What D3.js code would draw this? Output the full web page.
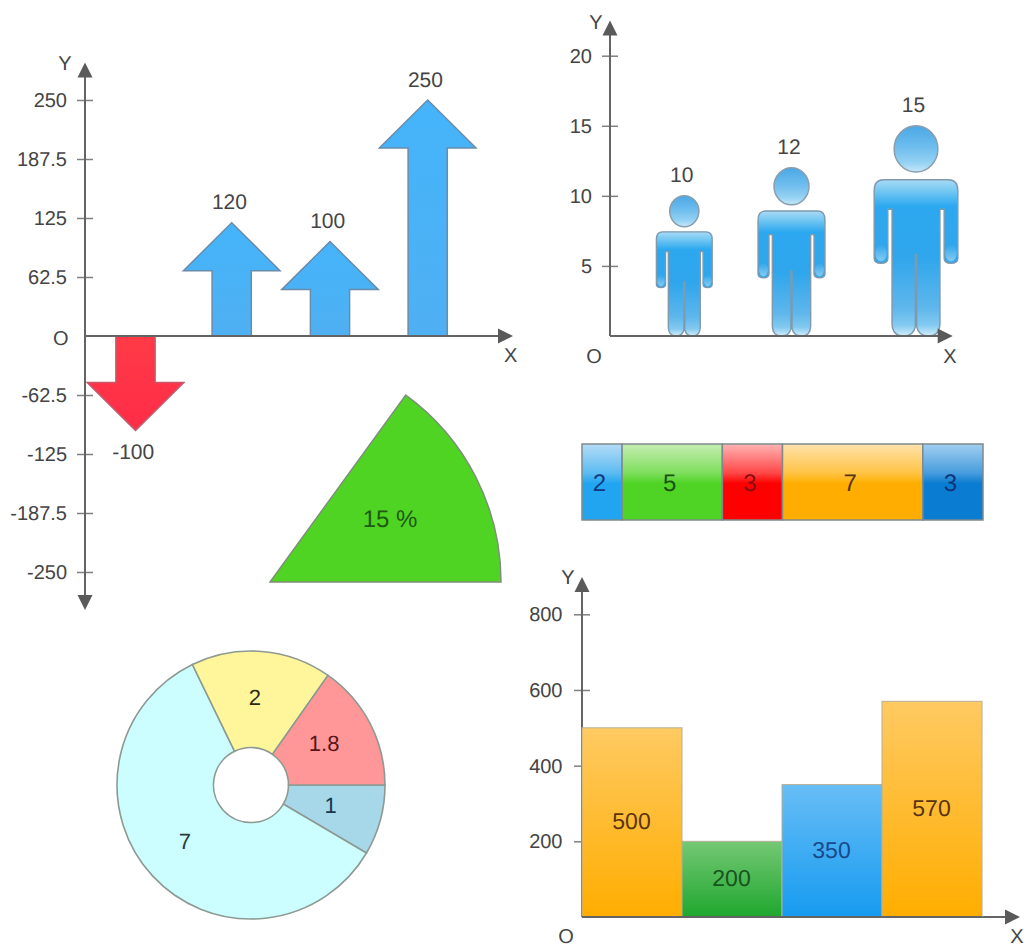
<!DOCTYPE html>
<html>
<head>
<meta charset="utf-8">
<title>Infographic charts</title>
<script src="https://cdn.jsdelivr.net/npm/d3@7"></script>
<style>
  html, body { margin: 0; padding: 0; background: #fff; }
  svg { display: block; }
  text { font-family: "Liberation Sans", Arial, sans-serif; font-size: 20px; fill: #444; text-rendering: geometricPrecision; }
</style>
</head>
<body>
<svg id="chart" width="1027" height="947"></svg>
<script>
// Arrow chart
const arrowCategories = ["a", "b", "c", "d"];
const arrowValues = [-100, 120, 100, 250];
const arrowTicks = [-250, -187.5, -125, -62.5, 62.5, 125, 187.5, 250];
// Pictogram chart
const personCategories = ["a", "b", "c"];
const personValues = [10, 12, 15];
const personTicks = [5, 10, 15, 20];
// Segmented strip
const stripValues = [2, 5, 3, 7, 3];
const stripBottom = ["#22a5f0", "#4fd425", "#ff0000", "#ffae00", "#0a7cd2"];
const stripTop = ["#b4dcf6", "#c6edb2", "#ffb4b4", "#ffe2ac", "#a2cff0"];
const stripText = ["#12387e", "#1c5210", "#8a0c10", "#5a3410", "#0c3478"];
// Column chart
const barCategories = ["a", "b", "c", "d"];
const barValues = [500, 200, 350, 570];
const barTicks = [200, 400, 600, 800];
const barTop = ["#ffca62", "#74c874", "#68bdf6", "#ffca62"];
const barBottom = ["#ffad00", "#1fa72e", "#169bf0", "#ffad00"];
const barText = ["#5a3410", "#17541f", "#174a8c", "#5a3410"];
// Donut, clockwise from three o'clock
const donutValues = [1, 7, 2, 1.8];
const donutColors = ["#a6d8ea", "#ccfdff", "#fff59a", "#ff9799"];
const donutText = ["#15384c", "#2a3a3c", "#2c2a10", "#5a1518"];
// Single sector
const sectorPercent = 15;

const svg = d3.select("#chart");
const defs = svg.append("defs");
const axisInk = "#646464";

function gradient(id, stops) {
  const g = defs.append("linearGradient").attr("id", id)
    .attr("x1", 0).attr("y1", 0).attr("x2", 0).attr("y2", 1);
  stops.forEach(([o, c, a]) => g.append("stop").attr("offset", o).attr("stop-color", c)
    .attr("stop-opacity", a === undefined ? 1 : a));
  return `url(#${id})`;
}

// Axis line with a triangular head at each requested end
function axisLine(x1, y1, x2, y2, heads) {
  svg.append("line").attr("x1", x1).attr("y1", y1).attr("x2", x2).attr("y2", y2)
    .attr("stroke", axisInk).attr("stroke-width", 2);
  heads.forEach(([tx, ty, dx, dy]) => {
    const p = d3.path();
    p.moveTo(tx, ty);
    p.lineTo(tx + dx * 15 + dy * 7.5, ty + dy * 15 + dx * 7.5);
    p.lineTo(tx + dx * 15 - dy * 7.5, ty + dy * 15 - dx * 7.5);
    p.closePath();
    svg.append("path").attr("d", p.toString()).attr("fill", "#5a5a5a");
  });
}

function yAxis(x, scale, ticks, pad) {
  const g = svg.append("g").attr("transform", `translate(${x},0)`)
    .call(d3.axisLeft(scale).tickValues(ticks).tickSize(8).tickPadding(pad).tickFormat(d => String(d)));
  g.select(".domain").remove();
  g.selectAll(".tick line").attr("x1", -8).attr("x2", 8).attr("stroke", "#808080").attr("stroke-width", 1.5);
  g.selectAll(".tick text").style("font-size", "20px").style("font-family", '"Liberation Sans", Arial, sans-serif');
}

function label(x, y, str, fill, size) {
  const t = svg.append("text").attr("x", x).attr("y", y).attr("text-anchor", "middle")
    .attr("dy", "0.36em").text(str);
  if (fill) t.style("fill", fill);
  if (size) t.style("font-size", size + "px");
  return t;
}

/* ---------- arrow chart ---------- */
const arrowY = d3.scaleLinear().domain([-250, 250]).range([572, 100]);
const arrowX = d3.scaleOrdinal().domain(arrowCategories).range([135.5, 231.7, 330, 427.7]);
const blueArrow = gradient("arrowBlue", [[0, "#45b4fb"], [1, "#4fb0f2"]]);
const redArrow = gradient("arrowRed", [[0, "#ff3a46"], [1, "#ff2c48"]]);

function arrowPath(cx, base, tip) {
  const dir = tip < base ? 1 : -1, hw = 48.3, hh = 48, sw = 19.6;
  const neck = tip + dir * hh, p = d3.path();
  p.moveTo(cx, tip);
  p.lineTo(cx + hw, neck);
  p.lineTo(cx + sw, neck);
  p.lineTo(cx + sw, base);
  p.lineTo(cx - sw, base);
  p.lineTo(cx - sw, neck);
  p.lineTo(cx - hw, neck);
  p.closePath();
  return p.toString();
}

yAxis(85, arrowY, arrowTicks, 10);
svg.append("g").selectAll("path").data(arrowValues).join("path")
  .attr("d", (d, i) => arrowPath(arrowX(arrowCategories[i]), arrowY(0), arrowY(d)))
  .attr("fill", d => d < 0 ? redArrow : blueArrow)
  .attr("stroke", d => d < 0 ? "#c9566a" : "#6a8cab")
  .attr("stroke-width", 1.5);
axisLine(85, 70, 85, 603, [[85, 62.5, 0, 1], [85, 610, 0, -1]]);
axisLine(85, arrowY(0), 505, arrowY(0), [[513, arrowY(0), -1, 0]]);
arrowValues.forEach((d, i) => {
  const off = d < 0 ? 21.5 : -21;
  label(arrowX(arrowCategories[i]) - 2.3, arrowY(d) + off, String(d), null, 21);
});
label(60.7, 338, "O");
label(510.7, 355, "X");
label(65, 63, "Y");

/* ---------- pictogram chart ---------- */
const personY = d3.scaleLinear().domain([0, 20]).range([336, 55.7]);
const personX = d3.scaleOrdinal().domain(personCategories).range([684.3, 791.5, 916]);
const personBody = gradient("personBody", [
  [0, "#a8daf6"], [0.06, "#7ccbf2"], [0.17, "#2ca8f0"], [0.5, "#30a6ec"], [0.82, "#5fb7ec"], [0.93, "#82c9f0"], [1, "#d4eefa"]
]);
const personHead = gradient("personHead", [
  [0, "#4aa8e5"], [0.5, "#72bfef"], [0.8, "#95d2f3"], [1, "#c6e7f8"]
]);
const personHand = gradient("personHand", [
  [0, "#bfe4f7", 0], [1, "#bfe4f7", 0.6]
]);

// Figure outline, expressed as fractions of the figure's height; the right half mirrors the left
function personPath(cx, base, h) {
  const X = a => cx + a * h, Y = b => base - b * h, p = d3.path();
  p.moveTo(X(-0.155), Y(0.743));
  p.quadraticCurveTo(X(-0.199), Y(0.743), X(-0.199), Y(0.69));
  p.lineTo(X(-0.199), Y(0.37));
  p.quadraticCurveTo(X(-0.199), Y(0.346), X(-0.166), Y(0.346));
  p.quadraticCurveTo(X(-0.134), Y(0.346), X(-0.134), Y(0.37));
  p.lineTo(X(-0.134), Y(0.603));
  p.lineTo(X(-0.114), Y(0.603));
  p.lineTo(X(-0.114), Y(0.06));
  p.quadraticCurveTo(X(-0.112), Y(0), X(-0.06), Y(0));
  p.quadraticCurveTo(X(-0.012), Y(0), X(-0.003), Y(0.045));
  p.lineTo(X(-0.003), Y(0.386));
  p.lineTo(X(0.003), Y(0.386));
  p.lineTo(X(0.003), Y(0.045));
  p.quadraticCurveTo(X(0.012), Y(0), X(0.06), Y(0));
  p.quadraticCurveTo(X(0.112), Y(0), X(0.114), Y(0.06));
  p.lineTo(X(0.114), Y(0.603));
  p.lineTo(X(0.134), Y(0.603));
  p.lineTo(X(0.134), Y(0.37));
  p.quadraticCurveTo(X(0.134), Y(0.346), X(0.166), Y(0.346));
  p.quadraticCurveTo(X(0.199), Y(0.346), X(0.199), Y(0.37));
  p.lineTo(X(0.199), Y(0.69));
  p.quadraticCurveTo(X(0.199), Y(0.743), X(0.155), Y(0.743));
  p.closePath();
  return p.toString();
}

yAxis(610, personY, personTicks, 10);
const heightOf = d => personY(0) - personY(d);
const figures = svg.append("g").selectAll("g").data(personValues).join("g");
figures.append("path")
  .attr("d", (d, i) => personPath(personX(personCategories[i]), personY(0), heightOf(d)))
  .attr("fill", personBody).attr("stroke", "#7f99ad").attr("stroke-width", 1.4);
[-1, 1].forEach(side => {
  figures.append("ellipse")
    .attr("cx", (d, i) => personX(personCategories[i]) + side * 0.1665 * heightOf(d))
    .attr("cy", d => personY(0) - 0.395 * heightOf(d))
    .attr("rx", d => 0.027 * heightOf(d))
    .attr("ry", d => 0.04 * heightOf(d))
    .attr("fill", personHand);
});
figures.append("ellipse")
  .attr("cx", (d, i) => personX(personCategories[i]))
  .attr("cy", d => personY(0) - 0.89 * heightOf(d))
  .attr("rx", d => 0.104 * heightOf(d))
  .attr("ry", d => 0.11 * heightOf(d))
  .attr("fill", personHead).attr("stroke", "#8a9eac").attr("stroke-width", 1.5);
axisLine(610, 28, 610, 336, [[610, 20.5, 0, 1]]);
axisLine(610, 336, 945, 336, [[952.7, 336, -1, 0]]);
personValues.forEach((d, i) => label(personX(personCategories[i]) - 2.5, personY(d) - 21, String(d), null, 21));
label(594, 356, "O");
label(950, 356, "X");
label(596, 21.5, "Y");

/* ---------- segmented strip ---------- */
const stripX = d3.scaleLinear().domain([0, d3.sum(stripValues)]).range([582, 983]);
const stripEnds = Array.from(d3.cumsum(stripValues));
const stripFills = stripValues.map((d, i) => gradient(`strip${i}`, [
  [0, stripTop[i]], [0.38, d3.interpolateRgb(stripTop[i], stripBottom[i])(0.6)], [0.52, stripBottom[i]], [1, stripBottom[i]]
]));
svg.append("g").selectAll("rect").data(stripValues).join("rect")
  .attr("x", (d, i) => stripX(stripEnds[i] - d))
  .attr("width", d => stripX(d) - stripX(0))
  .attr("y", 444).attr("height", 76)
  .attr("fill", (d, i) => stripFills[i])
  .attr("stroke", "#7f8a8c").attr("stroke-width", 1.5);
stripValues.forEach((d, i) => label(stripX(stripEnds[i] - d / 2) - 2.5, 482, String(d), stripText[i], 24));

/* ---------- column chart ---------- */
const barY = d3.scaleLinear().domain([0, 800]).range([917, 614.3]);
const barX = d3.scaleBand().domain(barCategories).range([582, 982]);
const barFills = barValues.map((d, i) => gradient(`bar${i}`, [[0, barTop[i]], [1, barBottom[i]]]));
yAxis(582, barY, barTicks, 11.5);
axisLine(582, 585, 582, 917, [[582, 577, 0, 1]]);
axisLine(582, 917, 1012, 917, [[1020, 917, -1, 0]]);
svg.append("g").selectAll("rect").data(barValues).join("rect")
  .attr("x", (d, i) => barX(barCategories[i]))
  .attr("width", barX.bandwidth())
  .attr("y", d => barY(d))
  .attr("height", d => barY(0) - barY(d))
  .attr("fill", (d, i) => barFills[i])
  .attr("stroke", "#b6ae98").attr("stroke-width", 1);
svg.append("line").attr("x1", 582).attr("x2", 982).attr("y1", barY(0)).attr("y2", barY(0))
  .attr("stroke", axisInk).attr("stroke-width", 2);
barValues.forEach((d, i) => label(barX(barCategories[i]) + barX.bandwidth() / 2 - 0.5, (barY(d) + barY(0)) / 2 - 1.5, String(d), barText[i], 23));
label(566, 935.4, "O");
label(1017, 935.4, "X");
label(568, 577, "Y");

/* ---------- donut ---------- */
const pie = d3.pie().sort(null).startAngle(Math.PI / 2).endAngle(Math.PI * 2.5);
const donutArc = d3.arc().innerRadius(37.5).outerRadius(134);
const donut = svg.append("g").attr("transform", "translate(251,785)");
const slices = pie(donutValues);
donut.selectAll("path").data(slices).join("path")
  .attr("d", donutArc)
  .attr("fill", (d, i) => donutColors[i])
  .attr("stroke", "#8d9a92").attr("stroke-width", 1.6);
donut.selectAll("text").data(slices).join("text")
  .attr("transform", d => {
    const [cx, cy] = donutArc.centroid(d);
    return `translate(${cx - 3},${cy - 2.5})`;
  })
  .attr("text-anchor", "middle").attr("dy", "0.36em")
  .style("fill", (d, i) => donutText[i])
  .style("font-size", "22px")
  .text(d => String(d.data));

/* ---------- single sector ---------- */
const sectorAngle = d3.scaleLinear().domain([0, 100]).range([0, Math.PI * 2]);
const sectorArc = d3.arc().innerRadius(0).outerRadius(231);
svg.append("path")
  .attr("transform", "translate(270,582)")
  .attr("d", sectorArc({ startAngle: Math.PI / 2 - sectorAngle(sectorPercent), endAngle: Math.PI / 2 }))
  .attr("fill", "#50d424").attr("stroke", "#7e9078").attr("stroke-width", 1.5);
label(390, 518, `${sectorPercent} %`, "#1e5a12", 24);
</script>
</body>
</html>
